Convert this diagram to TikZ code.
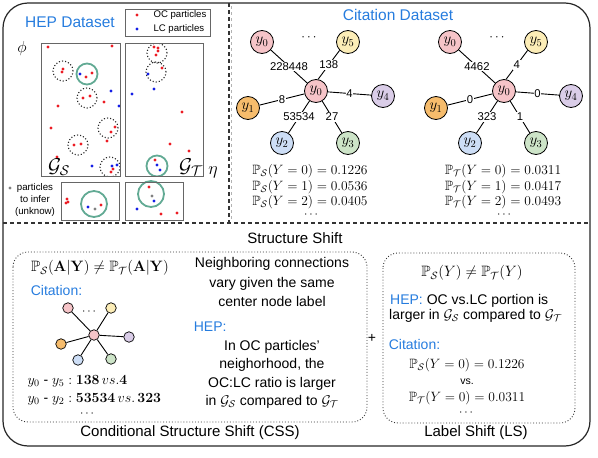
\RequirePackage{fix-cm}
\documentclass[tikz,border=0pt]{standalone}
\usepackage{amsmath,amssymb}
\usepackage[no-math]{fontspec}
\setmainfont{Liberation Sans}
\usetikzlibrary{positioning}

\definecolor{titleblue}{RGB}{38,124,222}
\definecolor{ringgreen}{RGB}{98,170,148}
\definecolor{ocred}{RGB}{236,28,36}
\definecolor{lcblue}{RGB}{20,30,230}
\definecolor{ypink}{RGB}{246,196,200}
\definecolor{yyellow}{RGB}{252,237,183}
\definecolor{yorange}{RGB}{246,188,108}
\definecolor{ypurple}{RGB}{218,205,232}
\definecolor{yblue}{RGB}{205,222,246}
\definecolor{ygreen}{RGB}{205,228,200}

\newcommand{\fsz}[2]{\fontsize{#1}{#2}\selectfont}
\newcommand{\ocdot}[1]{\fill[ocred] (#1) circle (1.7pt);}
\newcommand{\lcdot}[1]{\fill[lcblue] (#1) circle (1.7pt);}
\newcommand{\unkdot}[1]{\fill[gray] (#1) circle (1.7pt);}

\newcommand{\citestar}[8]{
			\begin{scope}[shift={(#1,0)}]

				% Star nodes
				\node[ynode, fill=ypink]   (#2c) at (316,91)  {$y_0$};
				\node[ynode, fill=ypink]   (#2a) at (262,42)  {$y_0$};
				\node[ynode, fill=yyellow] (#2f) at (348,42)  {$y_5$};
				\node[ynode, fill=yorange] (#2b) at (248,108) {$y_1$};
				\node[ynode, fill=ypurple] (#2e) at (383,96)  {$y_4$};
				\node[ynode, fill=yblue]   (#2d) at (282,143) {$y_2$};
				\node[ynode, fill=ygreen]  (#2g) at (348,143) {$y_3$};
				\node[font=\fsz{13}{13}] (#2dots) at (310,38) {$\cdots$};

				% Edges with counts
				\draw[edge] (#2a) -- node[cntlabel] {#3} (#2c);
				\draw[edge] (#2c.80) -- node[cntlabel] {#4} (#2f.225);
				\draw[edge] (#2b) -- node[cntlabel] {#5} (#2c);
				\draw[edge] (#2c) -- node[cntlabel] {#6} (#2e);
				\draw[edge] (#2d) -- node[cntlabel] {#7} (#2c);
				\draw[edge] (#2g) -- node[cntlabel] {#8} (#2c);

			\end{scope}
		}

\begin{document}
\begin{tikzpicture}[
			x=1pt, y=-1pt,
			ynode/.style={
				circle,
				draw,
				line width=0.8pt,
				minimum size=23pt,
				inner sep=0pt,
				font=\fsz{15}{15}
			},
			tinynode/.style={circle, draw, line width=0.7pt, minimum size=10.5pt, inner sep=0pt},
			edge/.style={line width=0.9pt},
			cntlabel/.style={fill=white, inner sep=0.8pt, font=\fsz{11.3}{12}},
			ring/.style={draw=ringgreen, line width=1.8pt},
			nbhd/.style={draw=black!85, dotted, line width=1.1pt},
			frame/.style={draw=black!60, line width=0.8pt},
			shiftbox/.style={draw=black!80, dotted, line width=0.9pt, rounded corners=15pt},
			divider/.style={draw=black!80, dash pattern=on 4pt off 3pt, line width=1.1pt},
			title/.style={text=titleblue, font=\fsz{15.5}{18}},
			hint/.style={text=titleblue, font=\fsz{14}{16}},
			body/.style={font=\fsz{14}{19.5}, align=center},
			dotsnode/.style={font=\fsz{12}{12}, inner sep=0.5pt}
			]
			\useasboundingbox (0,0) rectangle (598,458);

			% Frame and dividers
			\draw[black!85, line width=1.2pt, rounded corners=25pt] (3,3) rectangle (590,446);
			\draw[divider] (3,223) -- (590,223);
			\draw[divider] (229,3) -- (229,223);
			\draw[black!30, dashed, line width=0.5pt] (231.5,6) -- (231.5,219);

			% HEP dataset
			\node[title] (heptitle) at (70,22) {HEP Dataset};
			\draw[frame] (125,9) rectangle (210,36);
			\fill[ocred] (137,15) circle (1.7pt);
			\fill[lcblue] (137,29) circle (1.7pt);
			\node[font=\fsz{9.6}{11}, anchor=west] (oclab) at (150,15) {OC particles};
			\node[font=\fsz{9.6}{11}, anchor=west] (lclab) at (150,29) {LC particles};
			\node[font=\fsz{16}{16}] (phi) at (22,48) {$\phi$};
			\node[font=\fsz{18}{18}] (eta) at (213,172) {$\eta$};

			% Source graph
			\begin{scope}
				\clip (41,43) rectangle (120,176);
				\draw[nbhd] (63,71) circle (10pt);
				\draw[ring] (87,74) circle (10.5pt);
				\draw[nbhd] (87,98) circle (10pt);
				\draw[nbhd] (108,128) circle (10pt);
				\draw[nbhd] (78,145) circle (10pt);
				\draw[nbhd] (110,167) circle (10pt);
				\ocdot{48,47} \ocdot{112,46}
				\ocdot{62,72} \ocdot{63,69}
				\lcdot{80,74} \ocdot{86,77} \ocdot{92,73}
				\ocdot{83,98} \ocdot{90,96}
				\lcdot{111,91} \ocdot{104,102} \lcdot{119,106} \ocdot{58,106}
				\ocdot{115,127} \ocdot{111,132} \ocdot{51,128}
				\ocdot{74,145} \ocdot{81,144} \ocdot{107,141} \ocdot{57,157}
				\lcdot{92,166} \lcdot{112,166} \lcdot{117,165}
				\ocdot{113,169} \ocdot{111,172}
			\end{scope}
			\draw[frame] (41,43) rectangle (120,176);
			\node[font=\fsz{20}{20}] (gs) at (59,167) {$\mathcal{G}_{\mathcal{S}}$};

			% Target graph
			\begin{scope}
				\clip (125,43) rectangle (203,176);
				\draw[nbhd] (157,53) circle (10pt);
				\draw[nbhd] (156,72) circle (10pt);
				\draw[ring] (157,166) circle (10.5pt);
				\ocdot{154,47} \ocdot{158,48} \ocdot{158,51} \ocdot{156,55}
				\lcdot{148,74} \ocdot{162,68}
				\lcdot{154,89} \lcdot{132,94}
				\ocdot{182,112} \ocdot{170,144} \ocdot{189,151}
				\ocdot{155,160} \lcdot{157,165} \lcdot{160,170}
			\end{scope}
			\draw[frame] (125,43) rectangle (203,176);
			\node[font=\fsz{20}{20}] (gt) at (191,167) {$\mathcal{G}_{\mathcal{T}}$};

			% Particles to infer
			\unkdot{10,188}
			\node[font=\fsz{9.7}{12}, align=center] (infer) at (35,200) {particles\\to infer\\(unknow)};
			\draw[ring] (94,204) circle (13pt);
			\ocdot{67,199} \ocdot{68,202} \ocdot{66,203}
			\lcdot{88,207} \ocdot{101,205} \unkdot{95,209}
			\draw[frame] (61,182) rectangle (119,220);
			\draw[ring] (151,194) circle (13pt);
			\ocdot{149,187} \unkdot{152,196} \lcdot{154,201}
			\lcdot{137,209} \ocdot{161,214} \ocdot{177,213}
			\draw[frame] (125,182) rectangle (183,220);

			% Citation dataset
			\node[title] (cittitle) at (398,15) {Citation Dataset};
			\citestar{0}{s}{228448}{138}{8}{4}{53534}{27}
			\citestar{188}{t}{4462}{4}{0}{0}{323}{1}
			\node[font=\fsz{13.5}{15.5}, align=center, inner sep=0pt] (sprobs) at (310,187)
			{$\mathbb{P}_{\mathcal{S}}(Y=0)=0.1226$\\
				$\mathbb{P}_{\mathcal{S}}(Y=1)=0.0536$\\
				$\mathbb{P}_{\mathcal{S}}(Y=2)=0.0405$};
			\node[dotsnode] (sdots) at (312,214.5) {$\cdots$};
			\node[font=\fsz{13.5}{15.5}, align=center, inner sep=0pt] (tprobs) at (503,187)
			{$\mathbb{P}_{\mathcal{T}}(Y=0)=0.0311$\\
				$\mathbb{P}_{\mathcal{T}}(Y=1)=0.0417$\\
				$\mathbb{P}_{\mathcal{T}}(Y=2)=0.0493$};
			\node[dotsnode] (tdots) at (505,214.5) {$\cdots$};

			% Structure shift
			\node[font=\fsz{15}{18}] (sstitle) at (295,238) {Structure Shift};

			% Conditional structure shift
			\draw[shiftbox] (13,252) rectangle (367,422);
			\node[font=\fsz{15}{18}] (cssmath) at (100,268)
			{$\mathbb{P}_{\mathcal{S}}(\mathbf{A}|\mathbf{Y})\neq\mathbb{P}_{\mathcal{T}}(\mathbf{A}|\mathbf{Y})$};
			\node[hint, anchor=west] (csscit) at (27.3,290) {Citation:};
			\node[tinynode, fill=ypink]   (mc) at (94,335) {};
			\node[tinynode, fill=ypink]   (ma) at (68,308) {};
			\node[tinynode, fill=yyellow] (mf) at (111,308) {};
			\node[tinynode, fill=yorange] (mb) at (61,344) {};
			\node[tinynode, fill=ypurple] (me) at (129,337) {};
			\node[tinynode, fill=yblue]   (md) at (78,360) {};
			\node[tinynode, fill=ygreen]  (mg) at (111,359) {};
			\node[dotsnode] (mdots) at (90,312) {$\cdots$};
			\foreach \m in {ma,mf,mb,me,md,mg}
			\draw[edge] (mc) -- (\m);
			\node[font=\fsz{14}{16}, anchor=west] (pair1) at (24,381)
			{$y_0$ - $y_5:\mathbf{138}\,vs.\mathbf{4}$};
			\node[font=\fsz{14}{16}, anchor=west] (pair2) at (24,399)
			{$y_0$ - $y_2:\mathbf{53534}\,vs.\,\mathbf{323}$};
			\node[dotsnode] (pairdots) at (88,413.5) {$\cdots$};
			\node[body] (cssdesc) at (272,282) {Neighboring connections\\vary given the same\\center node label};
			\node[hint, anchor=west] (csshep) at (190.3,327) {HEP:};
			\node[font=\fsz{14}{18.3}, align=center] (csshepdesc) at (272,374.5)
			{In OC particles'\\neighorhood, the\\OC:LC ratio is larger\\in $\mathcal{G}_{\mathcal{S}}$ compared to $\mathcal{G}_{\mathcal{T}}$};
			\node[font=\fsz{15}{18}] (csslab) at (190,433) {Conditional Structure Shift (CSS)};

			\node[font=\fsz{14}{16}] (plus) at (372,338) {+};

			% Label shift
			\draw[shiftbox] (383,253) rectangle (575,423);
			\node[font=\fsz{15}{18}] (lsmath) at (472,273) {$\mathbb{P}_{\mathcal{S}}(Y)\neq\mathbb{P}_{\mathcal{T}}(Y)$};
			\node[font=\fsz{14}{14}, anchor=west, inner sep=0pt] (lshep) at (390,300.5) {\textcolor{titleblue}{HEP:} OC vs.LC portion is};
			\node[font=\fsz{14}{14}, anchor=west, inner sep=0pt] (lslarger) at (389,315.5) {larger in $\mathcal{G}_{\mathcal{S}}$ compared to $\mathcal{G}_{\mathcal{T}}$};
			\node[hint, anchor=west] (lscit) at (385.3,344) {Citation:};
			\node[font=\fsz{13.5}{15}] (lsp1) at (467,365) {$\mathbb{P}_{\mathcal{S}}(Y=0)=0.1226$};
			\node[font=\fsz{10.5}{12}] (lsvs) at (467,382) {vs.};
			\node[font=\fsz{13.5}{15}] (lsp2) at (467,398) {$\mathbb{P}_{\mathcal{T}}(Y=0)=0.0311$};
			\node[dotsnode] (lsdots) at (467,413) {$\cdots$};
			\node[font=\fsz{15}{18}] (lslab) at (476,433) {Label Shift (LS)};

		\end{tikzpicture}
\end{document}
